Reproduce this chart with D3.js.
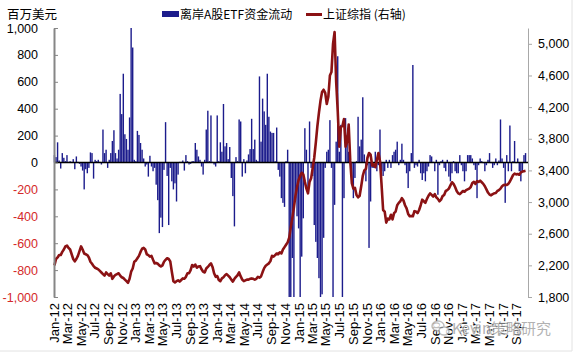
<!DOCTYPE html>
<html>
<head>
<meta charset="utf-8">
<script src="https://cdn.jsdelivr.net/npm/d3@7"></script>
<style>
body { margin: 0; background: #fff; }
text { font-family: "Liberation Sans", Arial, sans-serif; }
.cjk { font-family: "Noto Sans CJK SC", sans-serif; }
</style>
</head>
<body>
<div id="chart"></div>
<script>
// weekly data, first week ending 2012-01-06
const firstWeek = "2012-01-06";

// 离岸A股ETF资金流动, 百万美元
const flows = [
  55, 40, 150, 15, -45, 70, 35, 10, 55, 5,
  10, 5, 25, -50, 45, 5, -10, -30, -60, -200,
  -50, -80, -40, 75, 70, -120, 20, 10, 20, 5,
  -15, 245, 70, 95, -40, 20, 70, 160, 240, 70,
  30, 95, 510, 360, 660, 210, 175, 95, 335, 1000,
  855, 20, 10, 235, 205, 145, 95, 30, -30, -15,
  -105, 50, -30, -65, -40, -165, -280, -525, -410, -480,
  -55, 300, -100, -465, -40, -140, -200, -155, -290, -90,
  5, 5, 15, -60, 55, 10, -15, -10, 10, 10,
  145, 95, 45, 20, -30, -90, 20, 245, 385, 10,
  350, 5, -15, -30, 350, 10, 150, 80, 435, 120,
  145, 25, 115, -115, -250, -475, 40, 10, 320, 305,
  -105, 25, -80, 15, 60, 100, 325, 100, 170, 20,
  10, 640, 155, 475, 380, 280, 660, 340, 230, 220,
  220, 10, 260, -55, -105, -265, -300, -330, 10, 95,
  -1000, -1000, -710, -1000, -265, -400, -490, -1000, -700, -415,
  255, 95, -190, 305, -40, -100, -465, -590, -710, -860,
  -1000, -980, -560, -40, 80, 95, 315, -40, -1000, -315,
  155, 790, 80, 280, -1000, -265, 330, 205, 80, 90,
  -140, -265, -115, 10, 340, 120, 170, 485, 60, -140,
  -20, -635, -290, -40, -40, 80, -65, -20, 245, -65,
  -100, -65, 20, -40, 20, -40, 55, 80, 95, 155,
  -20, 20, 140, 20, -20, -80, -190, -65, 70, 725,
  -40, -20, -30, 20, -80, -130, -80, -140, -65, -30,
  55, 45, 5, -65, 20, -240, -20, 10, 20, -40,
  -65, 20, -105, -140, -80, 10, -65, -80, -80, 55,
  -20, -65, -140, -65, 55, 55, 55, 30, -20, -55,
  -265, -20, 30, 10, -5, -65, -20, 20, 70, -5,
  -40, -20, 30, -20, 15, 320, 30, -40, -300, 55,
  -65, 275, -65, 10, 160, -5, 30, -65, -140, -65,
  55, 70
];

// 上证综指 (右轴)
const sseIndex = [
  2200, 2280, 2300, 2330, 2330, 2370, 2400, 2440, 2450, 2420,
  2400, 2340, 2280, 2250, 2280, 2320, 2380, 2440, 2400, 2350,
  2340, 2330, 2300, 2245, 2220, 2190, 2170, 2160, 2150, 2130,
  2110, 2090, 2070, 2110, 2090, 2070, 2100, 2030, 2060, 2080,
  2090, 2100, 2070, 2050, 2040, 2020, 2000, 1980, 2030, 2120,
  2160, 2245, 2260, 2290, 2320, 2370, 2410, 2420, 2400, 2340,
  2330, 2310, 2320, 2270, 2225, 2230, 2220, 2200, 2185, 2200,
  2245, 2270, 2290, 2280, 2250, 2120, 2000, 1985, 2000, 2010,
  1995, 2015, 2035, 2030, 2055, 2100, 2100, 2140, 2205, 2185,
  2210, 2170, 2185, 2190, 2150, 2120, 2110, 2160, 2180, 2205,
  2225, 2180, 2100, 2055, 2065, 2015, 2000, 2035, 2050, 2075,
  2090, 2070, 2050, 2020, 1995, 2030, 2055, 2075, 2110, 2060,
  2020, 2000, 2010, 2020, 2020, 2030, 2035, 2030, 2020, 2030,
  2055, 2045, 2060, 2115, 2165, 2195, 2210, 2225, 2255, 2320,
  2310, 2330, 2350, 2340, 2365, 2350, 2400, 2430, 2460, 2490,
  2550, 2680, 2800, 2930, 3080, 3190, 3280, 3330, 3370, 3350,
  3255, 3170, 3110, 3255, 3300, 3430, 3560, 3750, 3960, 4130,
  4280, 4390, 4420, 4380, 4240, 4330, 4600, 4645, 5000, 5150,
  4520, 4150, 3700, 3950, 3960, 4050, 3700, 3760, 3980, 3520,
  3240, 3170, 3180, 3090, 3060, 3080, 3200, 3330, 3400, 3420,
  3560, 3620, 3600, 3460, 3480, 3440, 3530, 3620, 3520, 3220,
  2900, 2880, 2740, 2790, 2780, 2840, 2780, 2860, 2880, 2960,
  2990, 3010, 3050, 3020, 2960, 2920, 2850, 2820, 2825, 2820,
  2885, 2880, 2860, 2900, 2960, 3030, 3010, 2990, 3040, 3080,
  3110, 3090, 3070, 3100, 3060, 3040, 3010, 3030, 3075, 3090,
  3140, 3150, 3170, 3210, 3250, 3230, 3190, 3140, 3110, 3100,
  3120, 3140, 3130, 3150, 3160, 3170, 3190, 3240, 3255, 3230,
  3265, 3255, 3270, 3250, 3230, 3200, 3160, 3120, 3095, 3085,
  3100, 3110, 3115, 3140, 3150, 3170, 3200, 3215, 3220, 3215,
  3230, 3260, 3300, 3340, 3360, 3350, 3355, 3345, 3375, 3385,
  3390, 3395
];

const xTickLabels = [
  "Jan-12", "Mar-12", "May-12", "Jul-12", "Sep-12", "Nov-12",
  "Jan-13", "Mar-13", "May-13", "Jul-13", "Sep-13", "Nov-13",
  "Jan-14", "Mar-14", "May-14", "Jul-14", "Sep-14", "Nov-14",
  "Jan-15", "Mar-15", "May-15", "Jul-15", "Sep-15", "Nov-15",
  "Jan-16", "Mar-16", "May-16", "Jul-16", "Sep-16", "Nov-16",
  "Jan-17", "Mar-17", "May-17", "Jul-17", "Sep-17"
];
const leftTicks = [-1000, -800, -600, -400, -200, 0, 200, 400, 600, 800, 1000];
const rightTicks = [1800, 2200, 2600, 3000, 3400, 3800, 4200, 4600, 5000];

const barColor = "#1c1c8c";
const lineColor = "#8b1214";
const negColor = "#d42a2a";

const svg = d3.select("#chart")
    .append("svg")
    .attr("width", 580)
    .attr("height", 362);

const start = d3.timeParse("%Y-%m-%d")(firstWeek);
const weeks = flows.map((d, i) => d3.timeDay.offset(start, 7 * i));

const x = d3.scaleTime()
    .domain([new Date(2012, 0, 1), new Date(2017, 9, 21)])
    .range([54, 528]);
const yL = d3.scaleLinear().domain([-1000, 1000]).range([297, 28]);
const yR = d3.scaleLinear().domain([1800, 5200]).range([297, 28]);

// frame
svg.append("line").attr("x1", 572).attr("x2", 572).attr("y1", 0).attr("y2", 351)
    .attr("stroke", "#e2e2e2");
svg.append("line").attr("x1", 0).attr("x2", 572).attr("y1", 351).attr("y2", 351)
    .attr("stroke", "#e2e2e2");

// bars
svg.selectAll(".bar")
    .data(flows)
    .enter().append("rect")
    .attr("class", "bar")
    .attr("x", (d, i) => x(d3.timeDay.offset(weeks[i], -3)) - 0.7)
    .attr("width", 1.4)
    .attr("y", d => Math.min(yL(d), yL(0)))
    .attr("height", d => Math.abs(yL(d) - yL(0)))
    .attr("fill", barColor);

// zero line
svg.append("line")
    .attr("x1", 54).attr("x2", 528)
    .attr("y1", yL(0)).attr("y2", yL(0))
    .attr("stroke", "#000").attr("stroke-width", 1.6);

// index line
const line = d3.line()
    .x((d, i) => x(d3.timeDay.offset(weeks[i], -3)))
    .y(d => yR(d));
svg.append("path")
    .datum(sseIndex)
    .attr("d", line)
    .attr("fill", "none")
    .attr("stroke", lineColor)
    .attr("stroke-width", 2.6)
    .attr("stroke-linejoin", "round");

// left axis
const fmt = d => d3.format(",")(d).replace("\u2212", "-");
const gL = svg.append("g")
    .attr("transform", "translate(54,0)")
    .call(d3.axisLeft(yL).tickValues(leftTicks).tickFormat(fmt)
        .tickSize(-4).tickSizeOuter(0).tickPadding(16));
gL.select(".domain").attr("stroke", "#868686").attr("stroke-width", 2);
gL.selectAll(".tick line").attr("stroke", "#868686");
gL.selectAll(".tick text")
    .attr("font-size", 12.5)
    .attr("fill", d => d < 0 ? negColor : "#000");

// right axis
const gR = svg.append("g")
    .attr("transform", "translate(528,0)")
    .call(d3.axisRight(yR).tickValues(rightTicks).tickFormat(fmt)
        .tickSize(4).tickSizeOuter(0).tickPadding(6));
gR.select(".domain").attr("stroke", "#a8a8a8");
gR.selectAll(".tick line").attr("stroke", "#a8a8a8");
gR.selectAll(".tick text").attr("font-size", 12.5).attr("fill", "#000");

// x labels
const parseMonth = d3.timeParse("%b-%y");
svg.selectAll(".xlab")
    .data(xTickLabels)
    .enter().append("text")
    .attr("class", "xlab")
    .attr("transform", d => `translate(${x(parseMonth(d))},303) rotate(-90)`)
    .attr("dy", "0.35em")
    .attr("text-anchor", "end")
    .attr("font-size", 13)
    .text(d => d);

// unit + legend
svg.append("text").attr("class", "cjk")
    .attr("x", 7).attr("y", 18.5).attr("font-size", 12.5).text("百万美元");
svg.append("rect")
    .attr("x", 162).attr("y", 11).attr("width", 17).attr("height", 6)
    .attr("fill", barColor);
svg.append("text").attr("class", "cjk")
    .attr("x", 180).attr("y", 18.5).attr("font-size", 12).text("离岸A股ETF资金流动");
svg.append("line")
    .attr("x1", 306).attr("x2", 322).attr("y1", 14.5).attr("y2", 14.5)
    .attr("stroke", lineColor).attr("stroke-width", 3);
svg.append("text").attr("class", "cjk")
    .attr("x", 323).attr("y", 18.5).attr("font-size", 12).text("上证综指 (右轴)");

// watermark
const wm = svg.append("g").attr("opacity", 0.75);
wm.append("ellipse").attr("cx", 438).attr("cy", 326).attr("rx", 6).attr("ry", 5)
    .attr("fill", "#fff").attr("stroke", "#aaa").attr("stroke-width", 1.5);
wm.append("ellipse").attr("cx", 444).attr("cy", 331).attr("rx", 5).attr("ry", 4)
    .attr("fill", "#fff").attr("stroke", "#aaa").attr("stroke-width", 1.5);
wm.append("text").attr("class", "cjk")
    .attr("x", 452).attr("y", 334).attr("font-size", 15).attr("fill", "#999")
    .attr("stroke", "#fff").attr("stroke-width", 2).attr("paint-order", "stroke")
    .text("Kevin策略研究");
</script>
</body>
</html>
